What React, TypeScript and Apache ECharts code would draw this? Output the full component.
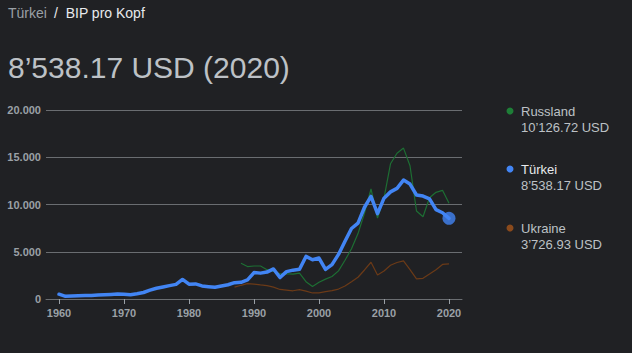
import React, { useEffect, useRef } from "react";
import * as echarts from "echarts";

const years: number[] = [];
for (let y = 1960; y <= 2020; y++) years.push(y);

// Türkei, 1960..2020
const turkey = [
  509, 283, 310, 350, 366, 377, 426, 452, 488, 524,
  494, 459, 565, 690, 934, 1137, 1272, 1418, 1547, 2070,
  1570, 1593, 1387, 1306, 1240, 1371, 1504, 1727, 1770, 2021,
  2795, 2738, 2852, 3180, 2270, 2897, 3053, 3144, 4506, 4155,
  4337, 3133, 3640, 4718, 6102, 7457, 8036, 9711, 10854, 9036,
  10672, 11335, 11708, 12582, 12158, 11006, 10895, 10590, 9455, 9127,
  8538,
];

// Russland, 1988..2020
const russiaStart = 1988;
const russia = [
  3780, 3430, 3490, 3490, 3100, 2930, 2660, 2670, 2640, 2740,
  1830, 1330, 1770, 2100, 2380, 2980, 4100, 5320, 6920, 9100,
  11640, 8560, 10670, 14310, 15420, 15970, 14100, 9310, 8700, 10720,
  11290, 11500, 10127,
];

// Ukraine, 1987..2020
const ukraineStart = 1987;
const ukraine = [
  1250, 1450, 1620, 1570, 1490, 1420, 1260, 1010, 940, 870,
  990, 840, 640, 640, 780, 880, 1050, 1370, 1830, 2300,
  3070, 3890, 2550, 2970, 3570, 3860, 4030, 3100, 2120, 2190,
  2640, 3100, 3660, 3727,
];

const xTicks = [1960, 1970, 1980, 1990, 2000, 2010, 2020];

const legendItems = [
  { name: "Russland", value: "10\u2019126.72 USD", color: "#1e7e37", nameColor: "#bdc1c6" },
  { name: "Türkei", value: "8\u2019538.17 USD", color: "#4285f4", nameColor: "#e8eaed" },
  { name: "Ukraine", value: "3\u2019726.93 USD", color: "#8a4a1c", nameColor: "#bdc1c6" },
];

const toPairs = (start: number, vals: number[]) => vals.map((v, i) => [start + i, v]);

export default function App() {
  const ref = useRef<HTMLDivElement>(null);
  useEffect(() => {
    if (!ref.current) return;
    const chart = echarts.init(ref.current, null, { renderer: "svg" });
    const font = "Arial, 'Liberation Sans', sans-serif";
    const legendGraphics: any[] = [];
    const legendY = [111, 169, 228];
    legendItems.forEach((it, i) => {
      legendGraphics.push({
        type: "circle",
        shape: { cx: 510, cy: legendY[i], r: 3.5 },
        style: { fill: it.color },
      });
      legendGraphics.push({
        type: "text",
        x: 521,
        y: legendY[i],
        style: { text: it.name, fill: it.nameColor, font: `13px ${font}`, verticalAlign: "middle" },
      });
      legendGraphics.push({
        type: "text",
        x: 521,
        y: legendY[i] + 16,
        style: { text: it.value, fill: "#bdc1c6", font: `13px ${font}`, verticalAlign: "middle" },
      });
    });
    chart.setOption({
      animation: false,
      backgroundColor: "#202124",
      grid: { left: 46, right: 170, top: 110, bottom: 54 },
      xAxis: {
        type: "value",
        min: 1958,
        max: 2022,
        splitLine: { show: false },
        axisLine: { show: true, lineStyle: { color: "#6a6d71", width: 1 } },
        axisTick: { show: true, customValues: xTicks, length: 5, lineStyle: { color: "#9aa0a6" } },
        axisLabel: {
          customValues: xTicks,
          color: "#9aa0a6",
          fontSize: 11,
          fontWeight: "bold",
          fontFamily: font,
          margin: 8,
          formatter: (v: number) => String(v),
        },
      },
      yAxis: {
        type: "value",
        min: 0,
        max: 20000,
        interval: 5000,
        axisLine: { show: false },
        axisTick: { show: false },
        splitLine: { lineStyle: { color: "#6a6d71", width: 1 } },
        axisLabel: {
          color: "#9aa0a6",
          fontSize: 11,
          fontWeight: "bold",
          fontFamily: font,
          margin: 5,
          formatter: (v: number) => (v === 0 ? "0" : `${Math.floor(v / 1000)}.${String(v % 1000).padStart(3, "0")}`),
        },
      },
      series: [
        {
          type: "line",
          data: toPairs(ukraineStart, ukraine),
          showSymbol: false,
          lineStyle: { color: "#6b3a17", width: 1.2 },
          z: 2,
        },
        {
          type: "line",
          data: toPairs(russiaStart, russia),
          showSymbol: false,
          lineStyle: { color: "#1d6e33", width: 1.2 },
          z: 3,
        },
        {
          type: "line",
          data: toPairs(years[0], turkey),
          showSymbol: false,
          lineStyle: { color: "#4285f4", width: 3.5, cap: "round", join: "round" },
          z: 4,
        },
        {
          type: "scatter",
          data: [[years[years.length - 1], turkey[turkey.length - 1]]],
          symbol: "circle",
          symbolSize: 13,
          itemStyle: { color: "#4285f4" },
          z: 5,
        },
      ],
      graphic: [
        {
          type: "text",
          x: 8,
          y: 13,
          style: { text: "Türkei", fill: "#9aa0a6", font: `14px ${font}`, verticalAlign: "middle" },
        },
        {
          type: "text",
          x: 54,
          y: 13,
          style: { text: "/  BIP pro Kopf", fill: "#e8eaed", font: `14px ${font}`, verticalAlign: "middle" },
        },
        {
          type: "text",
          x: 8,
          y: 67,
          style: { text: "8\u2019538.17 USD (2020)", fill: "#bdc1c6", font: `30px ${font}`, verticalAlign: "middle" },
        },
        ...legendGraphics,
      ],
    });
    return () => chart.dispose();
  }, []);
  return <div ref={ref} style={{ width: 632, height: 353, position: "fixed", left: 0, top: 0 }} />;
}
